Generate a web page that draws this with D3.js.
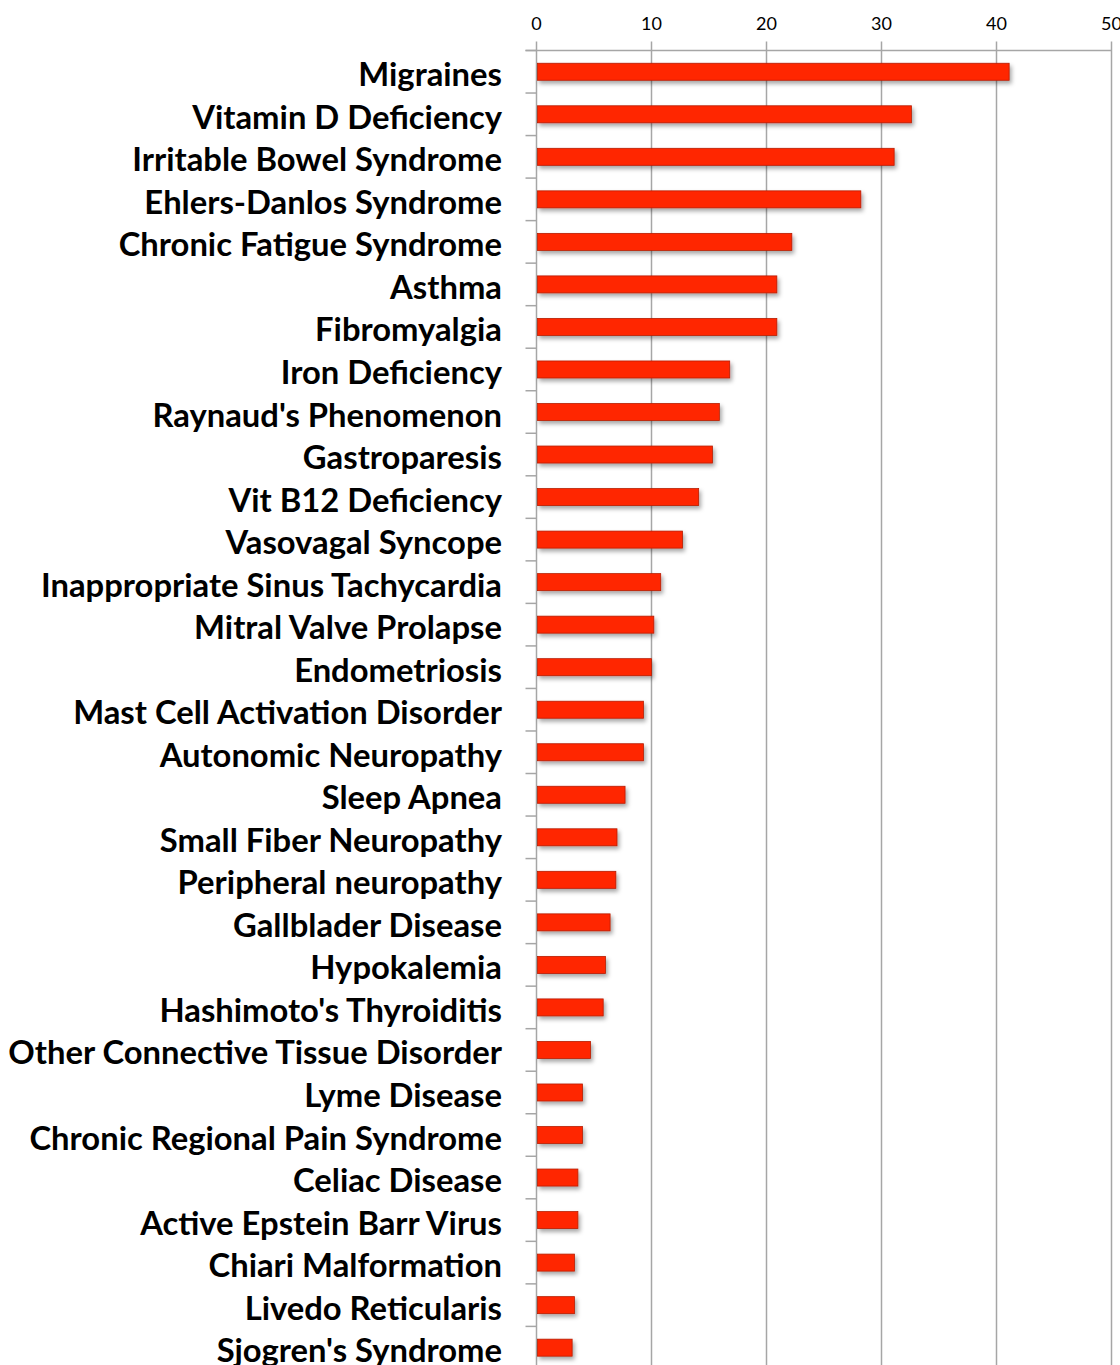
<!DOCTYPE html>
<html><head><meta charset="utf-8">
<script src="https://cdn.jsdelivr.net/npm/d3@7"></script>
<style>html,body{margin:0;padding:0;background:#fff;}</style>
</head><body>
<svg id="chart" width="1120" height="1365"></svg>
<script>
const categories = ["Migraines","Vitamin D Deficiency","Irritable Bowel Syndrome","Ehlers-Danlos Syndrome","Chronic Fatigue Syndrome","Asthma","Fibromyalgia","Iron Deficiency","Raynaud's Phenomenon","Gastroparesis","Vit B12 Deficiency","Vasovagal Syncope","Inappropriate Sinus Tachycardia","Mitral Valve Prolapse","Endometriosis","Mast Cell Activation Disorder","Autonomic Neuropathy","Sleep Apnea","Small Fiber Neuropathy","Peripheral neuropathy","Gallblader Disease","Hypokalemia","Hashimoto's Thyroiditis","Other Connective Tissue Disorder","Lyme Disease","Chronic Regional Pain Syndrome","Celiac Disease","Active Epstein Barr Virus","Chiari Malformation","Livedo Reticularis","Sjogren's Syndrome"];
const values = [41.1,32.6,31.1,28.2,22.2,20.9,20.9,16.8,15.9,15.3,14.1,12.7,10.8,10.2,10.0,9.3,9.3,7.7,7.0,6.9,6.4,6.0,5.8,4.7,4.0,4.0,3.6,3.6,3.3,3.3,3.1];
const xTicks = [0,10,20,30,40,50];

(function(){
const svg = d3.select("#chart");
const pl = 536.5, pr = 1111.5, pt = 50.5, band = 42.53;
const x = d3.scaleLinear().domain([0,50]).range([pl,pr]);
const y = d3.scaleBand().domain(categories).range([pt, pt + band*categories.length]).paddingInner(0.6).paddingOuter(0.3);

const defs = svg.append("defs");
const f = defs.append("filter").attr("id","sh").attr("x","-10%").attr("y","-50%").attr("width","130%").attr("height","250%");
f.append("feDropShadow").attr("dx",2).attr("dy",3).attr("stdDeviation",2).attr("flood-color","#000").attr("flood-opacity",0.35);

const pb = pt + band*categories.length;
svg.append("g").selectAll("line").data(xTicks).join("line")
  .attr("x1",d=>x(d)).attr("x2",d=>x(d)).attr("y1",pt-9).attr("y2",pb)
  .attr("stroke","#a6a6a6").attr("stroke-width",1.5);
svg.append("line").attr("x1",pl-11).attr("x2",pr).attr("y1",pt).attr("y2",pt).attr("stroke","#a6a6a6").attr("stroke-width",1.5);
svg.append("g").selectAll("text").data(xTicks).join("text")
  .attr("x",d=>x(d)).attr("y",29.5).attr("text-anchor","middle")
  .attr("font-family","Lato, 'Open Sans', sans-serif").attr("font-size",18).attr("fill","#000")
  .text(d=>d);
const bounds = d3.range(categories.length+1).map(i=>pt+i*band);
svg.append("g").selectAll("line").data(bounds).join("line")
  .attr("x1",pl-11).attr("x2",pl).attr("y1",d=>d).attr("y2",d=>d)
  .attr("stroke","#a6a6a6").attr("stroke-width",1.5);

svg.append("g").selectAll("rect").data(values).join("rect")
  .attr("x",x(0)+1).attr("y",(d,i)=>y(categories[i]))
  .attr("width",d=>x(d)-x(0)-1).attr("height",y.bandwidth())
  .attr("fill","#ff2600").attr("stroke","#b71c00").attr("stroke-width",0.8)
  .attr("filter","url(#sh)");

const lab = svg.append("g").selectAll("text").data(categories).join("text")
  .attr("x",502).attr("y",d=>y(d)+y.bandwidth()/2+14.5)
  .attr("text-anchor","end").attr("font-family","Lato, 'Open Sans', sans-serif")
  .attr("font-weight","bold").attr("font-size",30).attr("fill","#000").text(d=>d);
let maxW = 0; lab.each(function(){maxW=Math.max(maxW,this.getComputedTextLength());});
lab.attr("font-size",30*494/maxW);
})();
</script>
</body></html>
